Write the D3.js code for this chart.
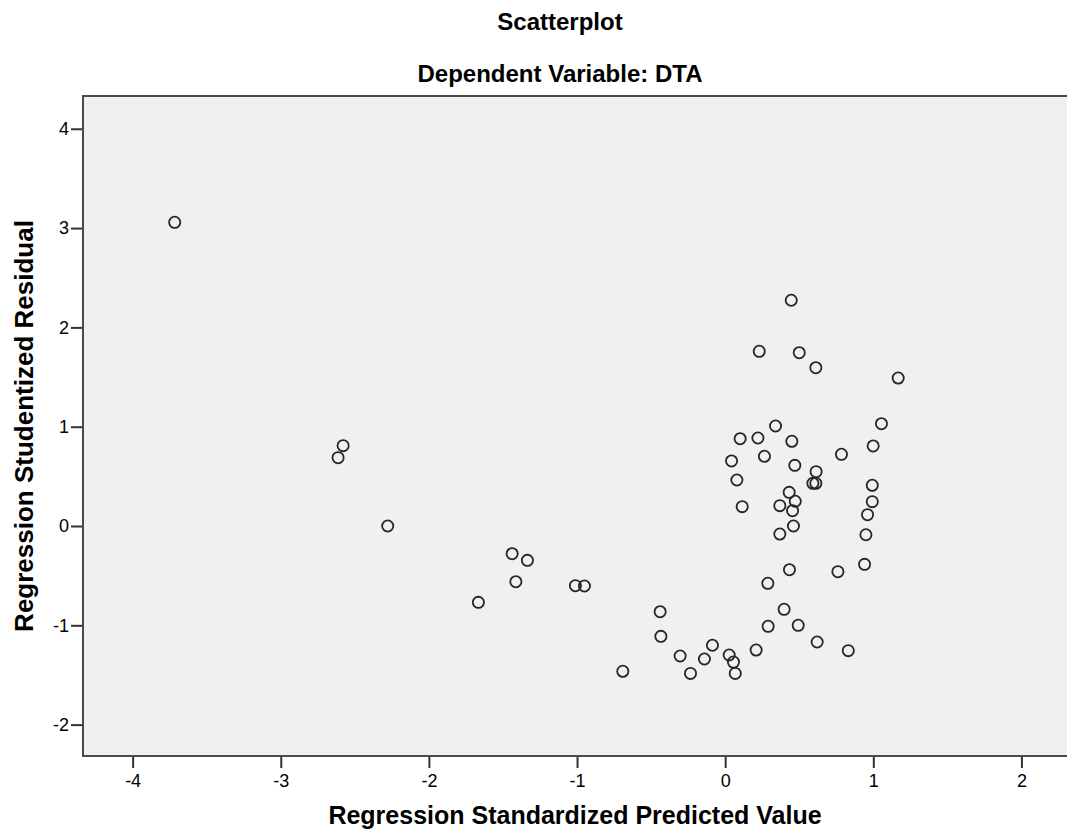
<!DOCTYPE html>
<html lang="en">
<head>
<meta charset="utf-8">
<title>Scatterplot</title>
<script src="https://d3js.org/d3.v7.min.js"></script>
<style>
body { margin: 0; background: #fff; }
text { font-family: "Liberation Sans", Arial, sans-serif; fill: #000; }
</style>
</head>
<body>
<div id="chart"></div>
<script>
// chart texts
var title = "Scatterplot";
var subtitle = "Dependent Variable: DTA";
var xTitle = "Regression Standardized Predicted Value";
var yTitle = "Regression Studentized Residual";

// tick values
var xTicks = [-4, -3, -2, -1, 0, 1, 2];
var yTicks = [-2, -1, 0, 1, 2, 3, 4];

// points
var predicted = [-3.716, -2.579, -2.613, -2.278, -1.438, -1.335, -1.413, -1.666, -1.011, -0.950,
  -0.439, -0.434, -0.304, -0.691, -0.234, -0.086, -0.140, 0.027, 0.056, 0.068,
  0.209, 0.288, 0.434, 0.290, 0.398, 0.493, 0.621, 0.831, 0.761, 0.941,
  0.446, 0.230, 0.500, 0.612, 1.168, 0.340, 1.055, 0.101, 0.221, 0.450,
  0.999, 0.043, 0.265, 0.785, 0.470, 0.079, 0.614, 0.592, 0.612, 0.993,
  0.432, 0.473, 0.115, 0.369, 0.455, 0.993, 0.961, 0.461, 0.369, 0.950];
var residual = [3.058, 0.809, 0.688, 0.000, -0.279, -0.346, -0.561, -0.769, -0.601, -0.604,
  -0.863, -1.111, -1.309, -1.463, -1.484, -1.201, -1.339, -1.299, -1.370, -1.484,
  -1.249, -0.577, -0.440, -1.010, -0.839, -1.000, -1.168, -1.255, -0.460, -0.386,
  2.273, 1.759, 1.745, 1.594, 1.490, 1.007, 1.030, 0.879, 0.886, 0.853,
  0.806, 0.655, 0.702, 0.722, 0.611, 0.463, 0.547, 0.430, 0.430, 0.410,
  0.339, 0.249, 0.195, 0.205, 0.154, 0.245, 0.114, 0.000, -0.081, -0.088];

var W = 1067, H = 838;
var plot = {left: 83, top: 96, right: 1069, bottom: 756};

var svg = d3.select("#chart").append("svg")
  .attr("width", W)
  .attr("height", H);

var x = d3.scaleLinear()
  .domain([-4.335, 2.321])
  .range([plot.left, plot.right]);
var y = d3.scaleLinear()
  .domain([-2.316, 4.330])
  .range([plot.bottom, plot.top]);

// plot background
svg.append("rect")
  .attr("x", plot.left)
  .attr("y", plot.top)
  .attr("width", plot.right - plot.left)
  .attr("height", plot.bottom - plot.top)
  .attr("fill", "#f0f0f0")
  .attr("stroke", "#4a4a4a")
  .attr("stroke-width", 2);

// axes, plain hyphen for negatives like the original
var fmt = function(d) { return String(d); };
var xAxis = svg.append("g")
  .attr("transform", "translate(0," + (plot.bottom + 1) + ")")
  .call(d3.axisBottom(x).tickValues(xTicks).tickSize(11).tickPadding(6).tickFormat(fmt));
var yAxis = svg.append("g")
  .attr("transform", "translate(" + (plot.left - 1) + ",0)")
  .call(d3.axisLeft(y).tickValues(yTicks).tickSize(11).tickPadding(2).tickFormat(fmt));

[xAxis, yAxis].forEach(function(a) {
  a.select(".domain").remove();
  a.selectAll(".tick line").attr("stroke", "#333").attr("stroke-width", 2);
  a.selectAll(".tick text")
    .style("font-family", "'Liberation Sans', Arial, sans-serif")
    .style("font-size", "18px")
    .attr("fill", "#1a1a1a");
});

// points
svg.append("g")
  .selectAll("circle")
  .data(predicted.map(function(v, i) { return {x: v, y: residual[i]}; }))
  .enter()
  .append("circle")
    .attr("cx", function(d) { return x(d.x); })
    .attr("cy", function(d) { return y(d.y); })
    .attr("r", 5.6)
    .attr("fill", "none")
    .attr("stroke", "#262626")
    .attr("stroke-width", 1.8);

// titles
svg.append("text")
  .attr("x", 560)
  .attr("y", 30)
  .attr("text-anchor", "middle")
  .style("font-size", "24px")
  .style("font-weight", "bold")
  .text(title);

svg.append("text")
  .attr("x", 560)
  .attr("y", 82)
  .attr("text-anchor", "middle")
  .style("font-size", "24px")
  .style("font-weight", "bold")
  .text(subtitle);

svg.append("text")
  .attr("x", 575)
  .attr("y", 824)
  .attr("text-anchor", "middle")
  .style("font-size", "25px")
  .style("font-weight", "bold")
  .text(xTitle);

svg.append("text")
  .attr("transform", "translate(33," + ((plot.top + plot.bottom) / 2) + ") rotate(-90)")
  .attr("text-anchor", "middle")
  .style("font-size", "26px")
  .style("font-weight", "bold")
  .text(yTitle);
</script>
</body>
</html>
